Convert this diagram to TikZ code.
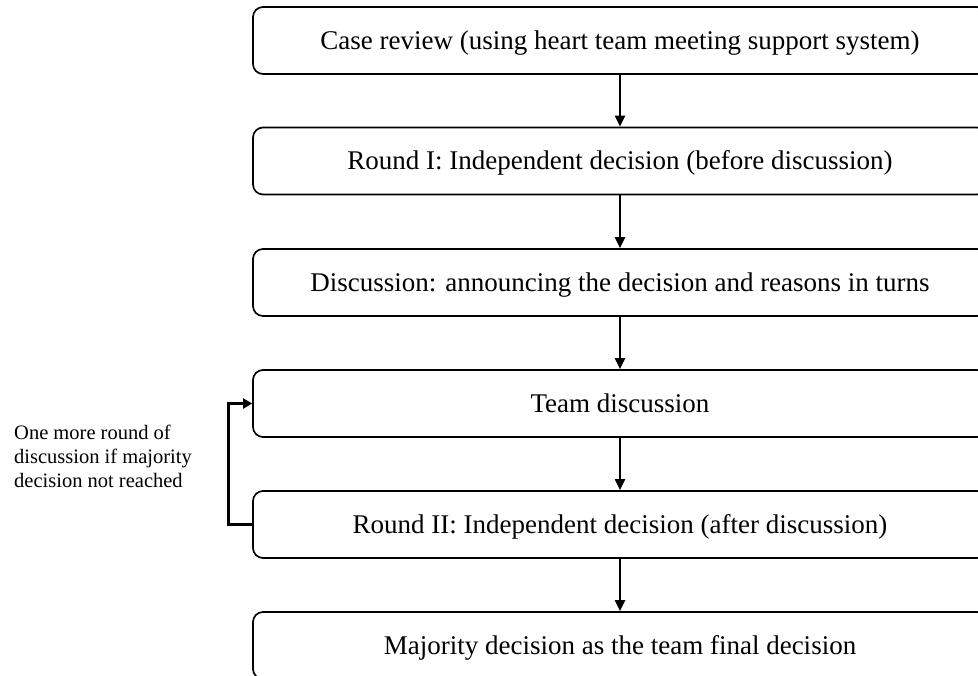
\documentclass[tikz,border=0pt]{standalone}
\usepackage{fontspec}
\setmainfont{Liberation Serif}
\usetikzlibrary{arrows.meta}
\begin{document}
\begin{tikzpicture}[x=1pt,y=1pt,
  stepbox/.style={draw=black, line width=1.7pt, rounded corners=10pt, minimum width=734pt, minimum height=67pt, inner sep=0pt, text height=18pt, text depth=0pt, font=\fontsize{27}{32}\selectfont},
  flow/.style={line width=2pt, -{Triangle[length=11pt,width=10pt]}},
  loop/.style={line width=3pt, -{Triangle[length=9pt,width=10pt]}}]
\useasboundingbox (0,0) rectangle (978,-676);
\clip (0,0) rectangle (978,-676);
\node[stepbox] (b1) at (620,-40.5) {Case review (using heart team meeting support system)};
\node[stepbox] (b2) at (620,-161) {Round I: Independent decision (before discussion)};
\node[stepbox] (b3) at (620,-282.5) {Discussion: announcing the decision and reasons in turns};
\node[stepbox] (b4) at (620,-403.5) {Team discussion};
\node[stepbox] (b5) at (620,-524.5) {Round II: Independent decision (after discussion)};
\node[stepbox] (b6) at (620,-645.5) {Majority decision as the team final decision};
\draw[flow] (b1) -- (b2);
\draw[flow] (b2) -- (b3);
\draw[flow] (b3) -- (b4);
\draw[flow] (b4) -- (b5);
\draw[flow] (b5) -- (b6);
\coordinate (lx) at (228,0);
\draw[loop] (b5.west) -- (b5.west -| lx) -- (b4.west -| lx) -- (b4.west);
\node[align=left, anchor=north west, inner sep=0pt, font=\fontsize{20.5}{24}\selectfont] (note) at (14,-425) {One more round of\\discussion if majority\\decision not reached};
\end{tikzpicture}
\end{document}
